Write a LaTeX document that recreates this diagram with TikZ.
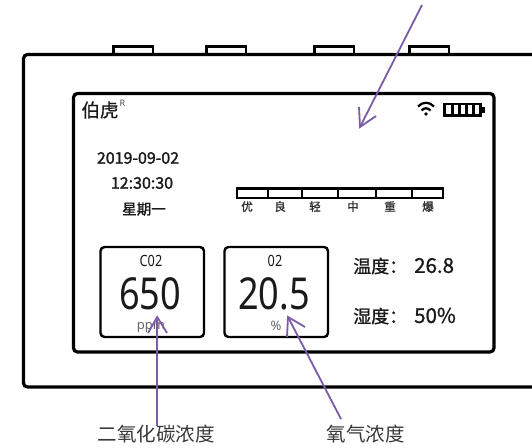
\documentclass[tikz,border=0pt]{standalone}
\usepackage{fontspec}
\setmainfont{Noto Sans}
\newfontfamily\cjk{Noto Sans CJK SC}
\newfontfamily\narrow{Noto Sans}[FakeStretch=0.82]
\definecolor{arrowpurple}{HTML}{7B5CA6}
\definecolor{ink}{HTML}{1A1A1A}
\tikzset{
  x=1pt,y=-1pt,
  frame/.style={draw=black,line width=3.2pt,rounded corners=4pt},
  tab/.style={draw=black,line width=2.3pt},
  readout/.style={draw=black,line width=2.4pt,rounded corners=4pt},
  callout/.style={draw=arrowpurple,line width=1.8pt},
  cn/.style={font=\fontsize{19.5}{20}\selectfont\cjk,text=black!78,inner sep=0pt},
  scr/.style={font=\fontsize{16}{17}\selectfont\cjk\addfontfeature{FakeBold=1.6},text=ink,inner sep=0pt},
  grade/.style={font=\fontsize{11.5}{12}\selectfont\cjk\addfontfeature{FakeBold=1.5},text=black!80,inner sep=0pt},
  big/.style={font=\fontsize{44}{46}\selectfont\narrow,text=ink,inner sep=0pt},
  sm/.style={font=\fontsize{15.5}{16}\selectfont\narrow,text=ink,inner sep=0pt},
  unit/.style={font=\fontsize{13}{14}\selectfont,text=black!60,inner sep=0pt},
  env/.style={font=\fontsize{18}{19}\selectfont\cjk\addfontfeature{FakeBold=1},text=ink,inner sep=0pt},
}
\begin{document}
\begin{tikzpicture}
\clip (0,0) rectangle (532,447);
\fill[white] (0,0) rectangle (532,447);
% tabs
\foreach \a/\b in {113.5/153,206.5/246,314.5/354,409.5/449}
  \draw[tab] (\a,54) -- (\a,46.5) -- (\b,46.5) -- (\b,54);
% outer body (runs off the right edge)
\draw[frame] (540,54.5) -- (23.5,54.5) -- (23.5,387) -- (540,387);
% screen
\draw[frame] (73.5,93.5) rectangle (494,352);
% header
\node[inner sep=0pt,font=\fontsize{18.5}{19}\selectfont\cjk\addfontfeature{FakeBold=0.5},text=ink] (brand) at (100,110) {伯虎};
\node[inner sep=0pt,font=\fontsize{9}{10}\selectfont,text=black!70] (reg) at (122.5,103) {R};
% date
\node[scr] (date) at (138,158) {2019-09-02};
\node[scr] (time) at (142,183) {12:30:30};
\node[scr,font=\fontsize{14.5}{16}\selectfont\cjk\addfontfeature{FakeBold=1.5}] (week) at (144,209) {星期一};
% wifi
\draw[line width=2.2pt,black] (418,106.5) .. controls (422.5,101.5) and (429.5,101.5) .. (434,106.5);
\draw[line width=2.2pt,black] (421.5,110.5) .. controls (424.5,107.5) and (427.5,107.5) .. (430.5,110.5);
\fill[black] (426,114) circle (1.9);
% battery
\draw[black,line width=2.4pt] (444.5,104) rectangle (480.5,115.5);
\fill[black] (480.5,106.5) rectangle (484.5,113);
\foreach \x in {451,458,465,472}
  \fill[black] (\x,104) rectangle (\x+2.6,115.5);
% quality bar
\draw[black,line width=2.6pt] (237,188.5) rectangle (443,198);
\foreach \x in {268,302,338,376,412}
  \draw[black,line width=2.6pt] (\x,188.5) -- (\x,198);
\node[grade] (g1) at (247,206.5) {优};
\node[grade] (g2) at (280,206.5) {良};
\node[grade] (g3) at (315,206.5) {轻};
\node[grade] (g4) at (353,206.5) {中};
\node[grade] (g5) at (390,206.5) {重};
\node[grade] (g6) at (428,206.5) {爆};
% readouts
\draw[readout] (100.5,247) rectangle (204,337);
\draw[readout] (224.5,247) rectangle (328,337);
\node[sm] (cotitle) at (151,261) {C02};
\node[big] (coval) at (150,294) {650};
\node[unit] (counit) at (151,328) {ppm};
\node[sm] (otitle) at (275,261) {02};
\node[big] (oval) at (274,294) {20.5};
\node[unit] (ounit) at (276,326) {\%};
% temperature / humidity
\node[env,anchor=west] (temp) at (353,266) {温度：\hspace{7pt}{\fontsize{20.5}{21}\selectfont 26.8}};
\node[env,anchor=west] (humid) at (353,316) {湿度：\hspace{7pt}{\fontsize{20.5}{21}\selectfont 50\%}};
% callout labels
\node[cn] (colabel) at (156,434) {二氧化碳浓度};
\node[cn] (olabel) at (365.5,434) {氧气浓度};
% callouts
\coordinate (topfree) at (422,5);
\coordinate (toptip) at (360,127);
\coordinate (cotail) at (157.2,426);
\coordinate (cotip) at (157.2,317);
\coordinate (otail) at (341,419);
\coordinate (otip) at (288,317);
\draw[callout] (topfree) -- (toptip);
\draw[callout] (359,107) -- (toptip) -- (376,116);
\draw[callout,line width=2.2pt] (cotail) -- (cotip);
\draw[callout] (148,333) -- (cotip) -- (167,333);
\draw[callout] (otail) -- (otip);
\draw[callout] (287,337) -- (otip) -- (305,327);
\end{tikzpicture}
\end{document}
